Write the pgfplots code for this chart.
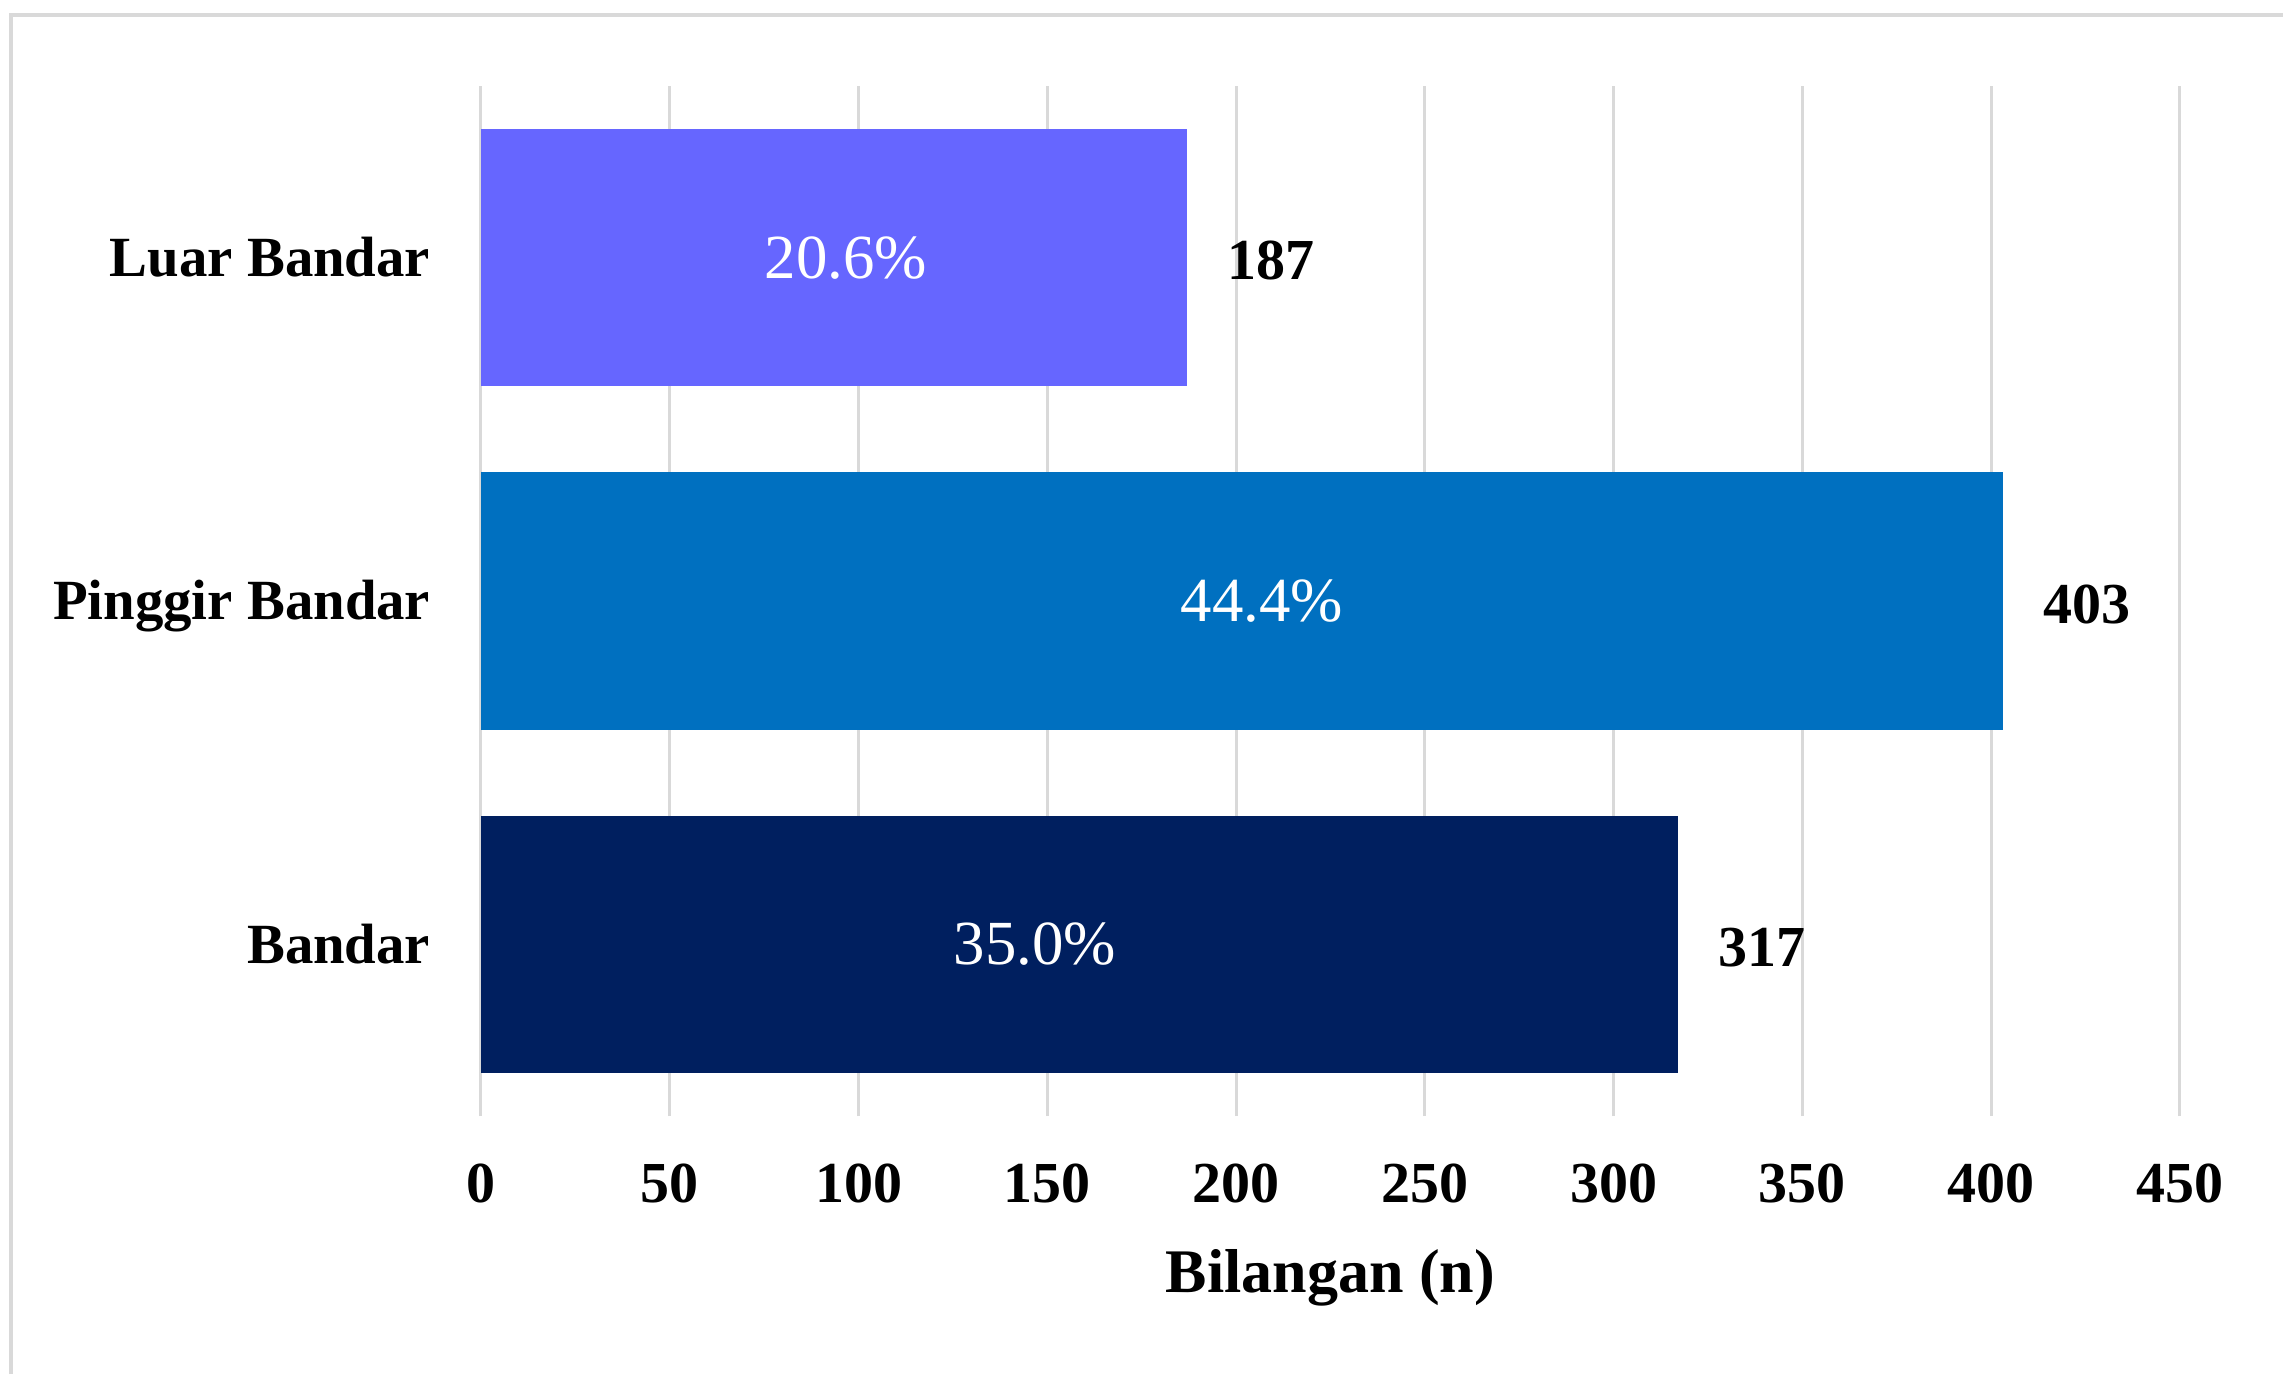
\documentclass[border=0pt]{standalone}
\usepackage{pgfplots}
\pgfplotsset{compat=1.18}
\usepackage{fontspec}
\setmainfont{Liberation Serif}

\definecolor{luar}{HTML}{6666FF}
\definecolor{pinggir}{HTML}{0070C0}
\definecolor{bandar}{HTML}{001F5F}
\definecolor{gridgray}{HTML}{D9D9D9}

\begin{document}
\begin{tikzpicture}
% page area and the light frame along the top and left
\useasboundingbox (0,0) rectangle (570.75pt,343.5pt);
\draw[gridgray, line width=0.8pt] (2.75pt,0) -- (2.75pt,339.75pt) -- (570.75pt,339.75pt);

\begin{axis}[
  at={(120.25pt,64.5pt)}, anchor=south west,
  scale only axis,
  width=424.75pt, height=257.5pt,
  xmin=0, xmax=450,
  ymin=-0.5, ymax=2.5,
  xtick={0,50,...,450},
  ytick={0,1,2},
  yticklabels={Bandar, Pinggir Bandar, Luar Bandar},
  /pgf/number format/assume math mode=true,
  axis line style={draw=none},
  major tick length=0pt,
  xmajorgrids,
  major grid style={gridgray, line width=0.75pt},
  ticklabel style={font=\bfseries\fontsize{14.5}{17}\selectfont, inner sep=0pt},
  xticklabel style={anchor=north, yshift=-11.75pt},
  yticklabel style={anchor=base east, xshift=-12.5pt, yshift=-4.7pt,
                    font=\bfseries\fontsize{14.2}{17}\selectfont},
  xlabel={Bilangan (n)},
  xlabel style={at={(axis description cs:0.5,0)}, anchor=base, yshift=-44pt,
                font=\bfseries\fontsize{15.5}{18}\selectfont},
  clip=false,
  every node near coord/.append style={font=\bfseries\fontsize{14.5}{17}\selectfont,
                anchor=west, inner sep=0pt, xshift=10pt, yshift=-0.75pt},
]
% counts per area
\addplot[xbar, bar width=0.75, bar shift=0, fill=bandar, draw=none,
         nodes near coords, point meta=x] coordinates {(317,0)};
\addplot[xbar, bar width=0.75, bar shift=0, fill=pinggir, draw=none,
         nodes near coords, point meta=x] coordinates {(403,1)};
\addplot[xbar, bar width=0.75, bar shift=0, fill=luar, draw=none,
         nodes near coords, point meta=x] coordinates {(187,2)};
% share of respondents, written inside each bar
\addplot[draw=none, mark=none, point meta=explicit symbolic,
         nodes near coords={\pgfplotspointmeta\%},
         every node near coord/.style={font=\fontsize{15.7}{18}\selectfont,
            text=white, anchor=center, inner sep=0pt}]
  coordinates {(146.7,0) [35.0] (206.8,1) [44.4] (96.7,2) [20.6]};
\end{axis}
\end{tikzpicture}
\end{document}
